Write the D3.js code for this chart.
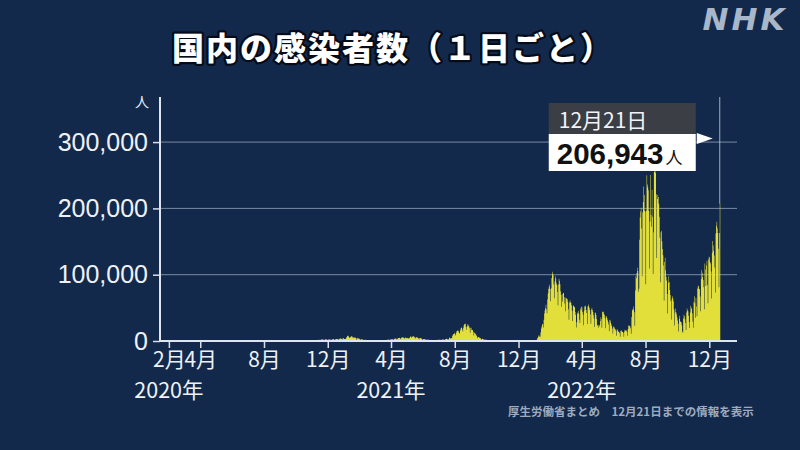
<!DOCTYPE html>
<html><head><meta charset="utf-8">
<script src="https://cdn.jsdelivr.net/npm/d3@7"></script>
<style>
html,body{margin:0;padding:0;background:#13294b;}
svg{display:block;}
</style></head>
<body><svg id="c" width="800" height="450"></svg>
<script>
// ---- data: daily new cases (Japan, MHLW), one inner array per month ----
const firstDay2020 = 16; // 2020 series starts on Jan 16
const cases2020 = [
[1,0,0,0,0,0,0,0,1,0,0,1,1,2,3,2],
[1,0,1,0,0,2,0,0,0,0,1,1,1,1,4,8,5,6,3,7,12,6,9,12,14,9,14,18,10],
[15,11,14,24,33,27,29,36,30,57,51,46,48,60,63,40,44,36,33,43,41,35,48,40,65,96,112,202,173,85,225],
[227,264,353,365,383,251,348,503,576,708,720,507,349,455,461,585,575,583,575,357,373,383,437,420,347,190,163,230,219,173],
[163,302,210,130,123,100,98,116,115,83,55,63,71,91,93,53,34,35,31,41,28,26,30,15,22,32,36,65,40,31,38],
[38,43,47,40,39,48,44,31,38,38,39,53,47,47,66,47,42,35,58,44,55,61,32,48,66,92,100,96,60,88],
[115,129,249,275,207,109,210,330,398,423,374,253,280,352,434,622,593,586,512,420,632,795,980,769,843,828,616,984,1264,1300,1580],
[1546,1238,958,1297,1351,1485,1595,1565,1445,833,1004,1065,1178,1177,1008,639,868,1235,1240,1216,1003,1001,752,498,853,888,1026,855,799,531,431],
[611,575,637,583,535,411,295,485,587,691,653,644,462,270,515,553,580,629,528,359,243,310,448,489,563,641,448,373,517,551],
[651,527,600,416,258,521,528,659,603,445,406,262,482,685,750,613,603,356,332,579,620,556,739,570,510,511,569,682,835,802,695],
[614,867,849,755,1045,1138,1323,1141,930,1244,1547,1676,1720,1737,1434,955,1720,2201,2388,2425,2590,2165,1526,1227,1938,2500,2512,2684,2063,1432],
[2032,2421,2517,2446,2441,2001,1498,2071,2799,2802,2780,3041,2395,1666,2418,3187,3003,2838,2996,2501,1807,2679,3270,3740,3831,3813,2941,2394,3601,3856,4515]
];
const cases2021 = [
[3158,3058,3131,3324,4915,6001,7570,7882,7790,6094,4876,4536,5875,6604,7133,7014,5759,4925,5320,5654,5043,4935,4717,3990,1958,3853,5047,4132,3535,3336,2671],
[1782,2321,2632,2576,2369,2278,1610,1229,1570,1977,1881,1354,1360,1194,1042,1300,1504,1533,1342,1236,1072,740,1085,1073,1054,982,995,852],
[1036,1045,1185,1189,1229,1163,1065,604,1110,1326,1289,1317,1287,1065,947,1512,1635,1514,1508,1517,1118,1040,1508,1917,1917,2054,2095,1784,1231,2046,2828],
[2759,2758,2760,2473,1564,2654,3448,3452,3688,3697,2777,2082,3452,4311,4576,4530,4801,4097,2798,4343,5292,5504,5114,5592,4599,3317,4479,5780,4668,4070],
[4720,4389,4236,3813,4102,4421,6057,7244,6475,4916,6240,6898,6873,7089,6416,5231,3678,5233,5663,5685,5281,4986,4125,2808,4226,4681,4407,4125,3780,2779,1860],
[2605,2942,2833,2652,2547,2028,1417,2235,2247,1934,1941,1728,1387,924,1407,1734,1572,1619,1481,1270,1038,1314,1694,1697,1622,1721,1625,1220,1488,1788],
[1885,1870,1946,1776,1215,1676,2180,2249,2302,2277,2050,1501,2385,3193,3421,3401,3099,2334,1991,3028,4934,5405,4228,3574,4692,4689,7630,9576,10699,10744,12341],
[10138,8385,12005,14207,15263,15734,15741,14469,12089,11421,15808,18890,20345,20136,17385,14219,19951,23908,25146,25992,25865,21370,17005,21565,24956,24954,22747,22028,19242,12583,20008],
[20035,16706,16752,16059,13474,8112,12396,12419,11033,9815,8239,7227,4172,6003,6160,5664,5062,4433,4219,2962,1776,3239,3545,2124,2669,2125,1130,1724,2205,1991],
[1577,1440,1102,595,1218,1311,1081,1045,789,716,379,635,660,605,601,521,429,234,385,390,335,338,282,245,155,330,357,282,273,250,227],
[135,160,213,164,224,176,159,110,194,208,193,178,187,159,72,195,165,144,161,172,134,79,50,121,109,114,127,62,81,86],
[130,158,127,133,125,112,120,151,160,143,139,155,120,130,158,176,184,160,162,183,280,255,283,304,384,322,238,377,410,502,553]
];
const cases2022 = [
[534,557,781,1260,2638,4475,6214,8480,8249,6438,6376,13244,18860,21924,25742,25439,20270,32198,41485,46199,49854,54576,47731,41803,62603,71633,78930,81825,84933,78306,59960],
[79395,94931,104520,101216,99001,85080,64366,89829,97776,94140,87263,84305,74067,53755,85278,94002,91001,85498,74906,69226,51845,70930,59740,72590,71999,66011,56398,44851],
[65419,64977,63187,63112,58948,47856,31960,58051,61331,58779,57237,53776,45069,30264,52962,53953,51834,51031,43604,39052,20466,28201,41474,43082,45806,41066,31883,27212,49347,46914,51877],
[51029,43574,39560,23880,45778,51950,53669,52183,46893,42061,25761,51865,55079,52225,50063,46694,40467,26015,47569,50006,46694,43854,39007,34101,20998,42193,42960,39307,33236,24627],
[23000,24155,19966,22223,24587,30049,35974,33134,19929,44026,44008,44124,41264,39064,34207,19389,36982,37245,34271,31437,28789,25019,14882,32011,31120,28017,25216,22316,18912,11212,21567],
[21946,20068,18210,17286,15159,7914,17661,16831,14889,13934,13256,11582,6271,15358,16238,14890,14136,13625,12153,6263,14486,17016,15894,15726,16007,13871,7944,18001,23367,23095],
[23160,22007,19379,10797,36106,45826,47948,51912,47574,43276,23021,76059,97788,94455,102500,110664,105551,74211,78986,152536,186172,195160,200975,169812,97811,193774,209694,233094,196480,220219,195244],
[85537,196460,249830,236065,232074,227209,196009,109283,180325,250396,190244,172327,228300,187313,101215,163856,255435,255534,261004,253265,221180,125287,214004,220211,217327,207185,187364,155813,88563,164089,166137],
[150380,138779,129269,113981,60911,118966,125416,106680,96849,91081,71051,41624,87815,97820,89014,76749,69563,60196,32591,63062,67504,64802,60085,47567,23542,42862,49131,43549,40108,35427],
[30853,26022,14265,33617,38102,29596,29131,28206,23620,14243,12608,34108,39524,37189,32848,27237,16615,43030,49106,46123,45010,37897,28818,19575,43009,53196,50527,48079,42012,28904,20000],
[59286,67473,57001,34987,64953,52000,37290,79127,82446,83207,78979,78000,67000,45000,93000,107000,103000,96000,92000,81000,48000,117000,108000,83000,114000,121000,85000,57000,123000,127000],
[126000,119000,117000,105000,64000,133000,151000,144000,136000,129000,111000,73000,162000,174000,180000,170000,163000,139000,81000,163000,206943]
];
const yTicks = [0, 100000, 200000, 300000];
const monthTicks = ["2020-02-01","2020-04-01","2020-08-01","2020-12-01","2021-04-01","2021-08-01","2021-12-01","2022-04-01","2022-08-01","2022-12-01"];
const yearLabels = ["2020年","2021年","2022年"];
const yearLabelAt = ["2020-02-01","2021-04-01","2022-04-01"];
const titleText = "国内の感染者数（１日ごと）";
const unitText = "人";
const sourceText = "厚生労働省まとめ　12月21日までの情報を表示";

// ---- build daily series ----
const series = [];
[[2020, cases2020], [2021, cases2021], [2022, cases2022]].forEach(([yr, months]) => {
  months.forEach((vals, m) => {
    const off = (yr === 2020 && m === 0) ? firstDay2020 : 1;
    vals.forEach((v, i) => series.push({date: new Date(yr, m, off + i), value: v}));
  });
});
const last = series[series.length - 1];

const svg = d3.select("#c");
const JP = "'Noto Sans CJK JP','Noto Sans',sans-serif";

const x = d3.scaleTime().domain([new Date(2020,0,15), new Date(2023,0,23)]).range([160, 737]);
const y = d3.scaleLinear().domain([0, 368000]).range([341, 97]);
const parse = d3.timeParse("%Y-%m-%d");

// title
svg.append("text").attr("x", 393).attr("y", 46)
  .attr("text-anchor","middle").attr("dominant-baseline","central")
  .style("font-family", JP).style("font-weight", 900).style("font-size","32px")
  .style("letter-spacing","2px")
  .attr("fill","#fff").attr("stroke","#050b18").attr("stroke-width",4.5)
  .attr("paint-order","stroke").attr("stroke-linejoin","round")
  .text(titleText);

// NHK logo
svg.append("text").attr("x", 745).attr("y", 30).attr("text-anchor","middle")
  .style("font-family","'DejaVu Sans',sans-serif").style("font-weight",700)
  .style("font-style","italic").style("font-size","31px").style("letter-spacing","3px")
  .attr("fill","#a9b7cb").text("NHK");

// gridlines
svg.append("g").selectAll("line").data(yTicks.filter(d => d > 0)).join("line")
  .attr("x1", 160).attr("x2", 737).attr("y1", d => y(d)).attr("y2", d => y(d))
  .attr("stroke", "rgba(190,202,220,0.6)").attr("stroke-width", 1);

// area: each day is a one-day wide step
const area = d3.area().curve(d3.curveStepAfter)
  .x(d => x(d.date)).y0(y(0)).y1(d => y(d.value));
const stepped = series.concat([{date: d3.timeDay.offset(last.date, 1), value: last.value}]);
svg.append("path").datum(stepped).attr("d", area).attr("fill", "#e2de3a");

// marker line at latest day
svg.append("line").attr("x1", x(last.date)).attr("x2", x(last.date))
  .attr("y1", 97).attr("y2", y(last.value))
  .attr("stroke","rgba(210,218,230,0.75)").attr("stroke-width",1);

// y axis
const yAxis = svg.append("g").attr("transform","translate(160,0)")
  .call(d3.axisLeft(y).tickValues(yTicks).tickFormat(d3.format(",")).tickSize(7).tickSizeOuter(0).tickPadding(5));
yAxis.select(".domain").remove();
yAxis.selectAll(".tick line").attr("stroke","#d8dfe9").attr("stroke-width",1.5);
yAxis.selectAll(".tick text").attr("fill","#eef2f7")
  .style("font-family","'Liberation Sans',Arial,sans-serif").style("font-size","25px");
svg.append("line").attr("x1",160).attr("x2",160).attr("y1",97).attr("y2",342)
  .attr("stroke","#dfe5ee").attr("stroke-width",2);

// x axis
const xAxis = svg.append("g").attr("transform","translate(0,341)")
  .call(d3.axisBottom(x).tickValues(monthTicks.map(parse))
    .tickFormat(d => (d.getMonth()+1) + "月").tickSize(7).tickSizeOuter(0).tickPadding(4));
xAxis.select(".domain").remove();
xAxis.selectAll(".tick line").attr("stroke","#d8dfe9").attr("stroke-width",1.5);
xAxis.selectAll(".tick text").attr("fill","#eef2f7")
  .style("font-family", JP).style("font-size","21px");
svg.append("line").attr("x1",159).attr("x2",737).attr("y1",341).attr("y2",341)
  .attr("stroke","#dfe5ee").attr("stroke-width",2);

// year labels
svg.append("g").selectAll("text").data(yearLabels).join("text")
  .attr("x", (d,i) => x(parse(yearLabelAt[i]))).attr("y", 388)
  .attr("text-anchor","middle").attr("dominant-baseline","central")
  .style("font-family", JP).style("font-size","21.5px").attr("fill","#eef2f7")
  .text(d => d);

// unit
svg.append("text").attr("x",142).attr("y",101).attr("text-anchor","middle")
  .attr("dominant-baseline","central")
  .style("font-family", JP).style("font-size","14px").attr("fill","#e6ebf2").text(unitText);

// callout
const cx = x(last.date);
const bx0 = cx - 171, bx1 = cx - 24;
svg.append("rect").attr("x", bx0).attr("y", 103).attr("width", bx1 - bx0).attr("height", 31).attr("fill","#3b3e44");
svg.append("rect").attr("x", bx0).attr("y", 134).attr("width", bx1 - bx0).attr("height", 37).attr("fill","#ffffff");
svg.append("path").attr("d", `M${cx-23},133 L${cx-7},138.5 L${cx-23},144 Z`).attr("fill","#ffffff");
svg.append("text").attr("x", bx0 + 10).attr("y", 119).attr("dominant-baseline","central")
  .style("font-family", JP).style("font-size","21px").attr("fill","#f2f4f7")
  .text(d3.timeFormat("%-m月%-d日")(last.date));
const vt = svg.append("text").attr("x", bx0 + 8).attr("y", 164)
  .style("font-family","'Liberation Sans',Arial,sans-serif").attr("fill","#111");
vt.append("tspan").style("font-size","29.5px").style("font-weight",700).text(d3.format(",")(last.value));
vt.append("tspan").style("font-family", JP).style("font-size","17px").attr("dx", 2).text(unitText);

// source
svg.append("text").attr("x", 508).attr("y", 416)
  .style("font-family", JP).style("font-size","11.5px").style("font-weight",700)
  .attr("fill","#9eabbf").text(sourceText);
</script></body></html>
